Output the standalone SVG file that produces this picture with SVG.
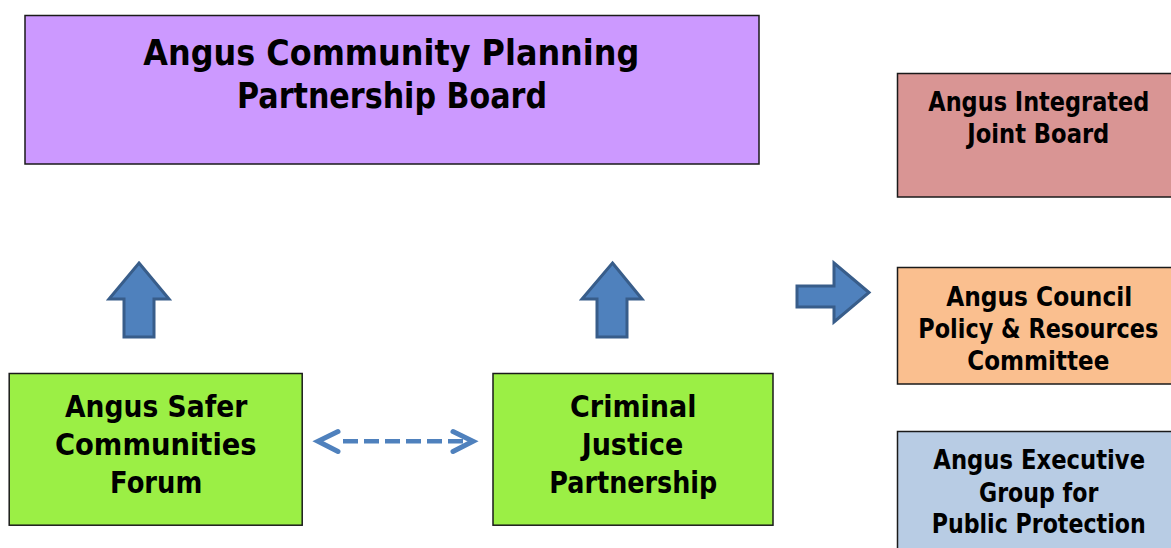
<svg xmlns="http://www.w3.org/2000/svg" width="1171" height="548" viewBox="0 0 1171 548">
<style>
.box{stroke:#1a1a1a;stroke-width:1.5}
.t{font-family:"DejaVu Sans","Liberation Sans",sans-serif;font-weight:bold;fill:#000;text-anchor:middle}
.big{font-size:36px}
.mid{font-size:31px}
.sm{font-size:26.5px}
.blk{fill:#4F81BD;stroke:#385D8A;stroke-width:3;stroke-linejoin:miter}
.dash{fill:none;stroke:#4F81BD;stroke-width:4.5}
.chev{fill:none;stroke:#4F81BD;stroke-width:5;stroke-linecap:round;stroke-linejoin:miter}
</style>
<rect width="1171" height="548" fill="#fff"/>
<g id="cppb">
<rect class="box" x="25" y="15.5" width="734" height="148.5" fill="#CC99FF"/>
<text class="t big" x="391.3" y="64.5" textLength="496" lengthAdjust="spacingAndGlyphs">Angus Community Planning</text>
<text class="t big" x="392" y="107.5" textLength="310" lengthAdjust="spacingAndGlyphs">Partnership Board</text>
</g>
<g id="ijb">
<rect class="box" x="897.5" y="73.5" width="290" height="123.5" fill="#D99594"/>
<text class="t sm" x="1038.8" y="111" textLength="221" lengthAdjust="spacingAndGlyphs">Angus Integrated</text>
<text class="t sm" x="1038.3" y="142.7" textLength="142" lengthAdjust="spacingAndGlyphs">Joint Board</text>
</g>
<g id="council">
<rect class="box" x="897.5" y="267.5" width="290" height="116.5" fill="#FABF8F"/>
<text class="t sm" x="1039.2" y="305.7" textLength="186" lengthAdjust="spacingAndGlyphs">Angus Council</text>
<text class="t sm" x="1038.3" y="337.7" textLength="240" lengthAdjust="spacingAndGlyphs">Policy &amp; Resources</text>
<text class="t sm" x="1038.3" y="370" textLength="142" lengthAdjust="spacingAndGlyphs">Committee</text>
</g>
<g id="egpp">
<rect class="box" x="897.5" y="431.5" width="290" height="130" fill="#B8CCE4"/>
<text class="t sm" x="1039.2" y="469.3" textLength="211.7" lengthAdjust="spacingAndGlyphs">Angus Executive</text>
<text class="t sm" x="1038.7" y="501.7" textLength="119.3" lengthAdjust="spacingAndGlyphs">Group for</text>
<text class="t sm" x="1038.7" y="533.3" textLength="214" lengthAdjust="spacingAndGlyphs">Public Protection</text>
</g>
<g id="ascf">
<rect class="box" x="9.2" y="373.5" width="293" height="151.7" fill="#9BEF45"/>
<text class="t mid" x="156.2" y="416.7" textLength="182.3" lengthAdjust="spacingAndGlyphs">Angus Safer</text>
<text class="t mid" x="155.8" y="455" textLength="201.7" lengthAdjust="spacingAndGlyphs">Communities</text>
<text class="t mid" x="156.2" y="493.3" textLength="92.3" lengthAdjust="spacingAndGlyphs">Forum</text>
</g>
<g id="cjp">
<rect class="box" x="493" y="373.5" width="280" height="151.7" fill="#9BEF45"/>
<text class="t mid" x="633.3" y="416.7" textLength="126.7" lengthAdjust="spacingAndGlyphs">Criminal</text>
<text class="t mid" x="632.5" y="455" textLength="101.7" lengthAdjust="spacingAndGlyphs">Justice</text>
<text class="t mid" x="633.3" y="493.3" textLength="168" lengthAdjust="spacingAndGlyphs">Partnership</text>
</g>
<g id="connectors">
<polygon class="blk" points="139,263 169,299 154,299 154,337 124,337 124,299 109,299"/>
<polygon class="blk" points="612.5,263 642,299 627,299 627,337 597,337 597,299 582,299"/>
<polygon class="blk" points="869,292.5 834,263 834,286 797,286 797,307 834,307 834,322"/>
<line class="dash" x1="343" y1="441.3" x2="468" y2="441.3" stroke-dasharray="15 6"/>
<polyline class="chev" points="338,431.5 318,441.3 338,451.5"/>
<polyline class="chev" points="453,431.5 473,441.3 453,451.5"/>
</g>
</svg>
